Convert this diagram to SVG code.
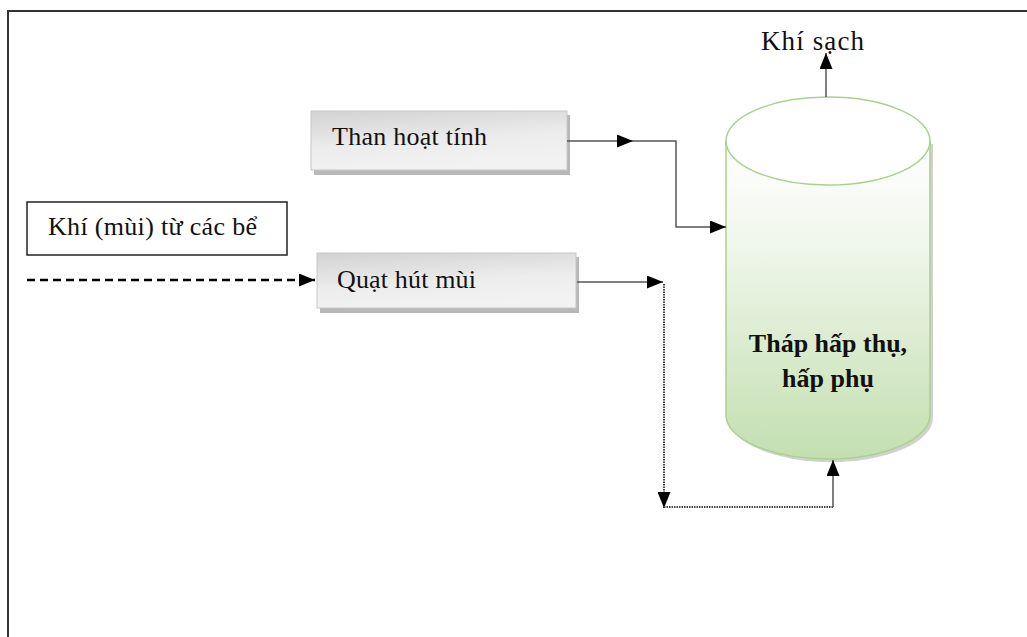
<svg xmlns="http://www.w3.org/2000/svg" width="1027" height="637" viewBox="0 0 1027 637">
<style>
.t{font-family:"Liberation Serif","Times New Roman",serif;font-size:26px;fill:#111}
.b{font-weight:bold;text-anchor:middle}
.ln{fill:none;stroke:#555;stroke-width:1.5}
.dot{fill:none;stroke:#444;stroke-width:2;stroke-dasharray:1.5 1}
</style>
<defs>
<linearGradient id="gBox" x1="0" y1="0" x2="0.3" y2="1">
<stop offset="0" stop-color="#d2d2d2"/>
<stop offset="0.6" stop-color="#ececec"/>
<stop offset="1" stop-color="#f2f2f2"/>
</linearGradient>
<linearGradient id="gCyl" x1="0" y1="141" x2="0" y2="459" gradientUnits="userSpaceOnUse">
<stop offset="0" stop-color="#ffffff"/>
<stop offset="0.3" stop-color="#f1f7ed"/>
<stop offset="1" stop-color="#c3dfb0"/>
</linearGradient>
<marker id="ah" markerUnits="userSpaceOnUse" markerWidth="16" markerHeight="13" refX="16" refY="6.5" orient="auto">
<path d="M0,0 L16,6.5 L0,13 Z" fill="#000"/>
</marker>
</defs>
<rect x="8" y="11" width="1040" height="640" fill="none" stroke="#333" stroke-width="2"/>

<g id="source">
<rect x="27" y="202" width="260" height="53" fill="#fff" stroke="#222" stroke-width="1.5"/>
<text class="t" x="48" y="235" textLength="209">Khí (mùi) từ các bể</text>
</g>

<g id="than">
<rect x="314" y="115" width="256" height="60" fill="#b8b8b8"/>
<rect x="311" y="111" width="256" height="59" fill="url(#gBox)" stroke="#c8c8c8" stroke-width="1"/>
<text class="t" x="332" y="145" textLength="155">Than hoạt tính</text>
</g>

<g id="quat">
<rect x="320" y="257" width="259" height="56" fill="#b8b8b8"/>
<rect x="317" y="253" width="259" height="55" fill="url(#gBox)" stroke="#c8c8c8" stroke-width="1"/>
<text class="t" x="337" y="288" textLength="139">Quạt hút mùi</text>
</g>

<g id="thap">
<path d="M729,144 V418 A102,44 0 0 0 933,418 V144 Z" fill="#9a9a9a" opacity="0.45"/>
<path d="M726,141 V415 A102,44 0 0 0 930,415 V141 Z" fill="url(#gCyl)" stroke="#a9d18e" stroke-width="1.5"/>
<ellipse cx="828" cy="141" rx="102" ry="44" fill="#fff" stroke="#a9d18e" stroke-width="1.5"/>
<text class="t b" x="828" y="352">Tháp hấp thụ,</text>
<text class="t b" x="828" y="387">hấp phụ</text>
</g>

<g id="out">
<text class="t" x="761" y="50" style="font-size:27px" textLength="103">Khí sạch</text>
</g>

<g id="connectors">
<path d="M27,280 H315" fill="none" stroke="#000" stroke-width="2.5" stroke-dasharray="8 5" marker-end="url(#ah)"/>
<path class="ln" d="M567,141 H633" marker-end="url(#ah)"/>
<path class="ln" d="M633,141 H676 V227 H726" marker-end="url(#ah)"/>
<path class="ln" d="M577,282 H663" marker-end="url(#ah)"/>
<path class="dot" d="M664,284 V508" marker-end="url(#ah)"/>
<path class="dot" d="M664,507 H833"/>
<path class="ln" d="M833,507 V460" marker-end="url(#ah)"/>
<path class="ln" d="M826,97 V53" marker-end="url(#ah)"/>
</g>
</svg>
